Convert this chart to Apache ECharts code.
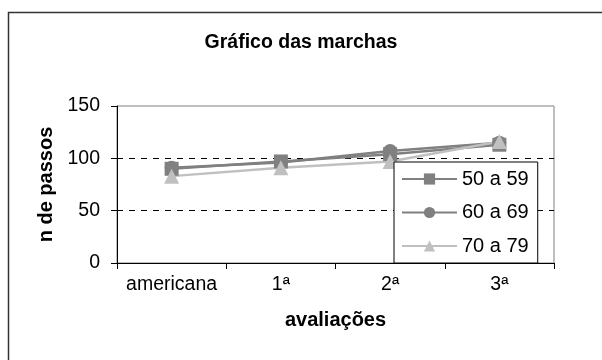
<!DOCTYPE html>
<html><head><meta charset="utf-8">
<script src="https://cdn.jsdelivr.net/npm/echarts@6/dist/echarts.min.js"></script>
<style>html,body{margin:0;padding:0;background:#fff}#c{width:602px;height:360px}</style>
</head><body><div id="c"></div>
<script>
var categories = ['americana', '1ª', '2ª', '3ª'];
var seriesNames = ['50 a 59', '60 a 69', '70 a 79'];
var s50 = [90, 97, 104, 113];
var s60 = [91, 96, 107, 115];
var s70 = [83, 91, 97, 116];
var yTicks = [0, 50, 100, 150];

var chart = echarts.init(document.getElementById('c'), null, {renderer: 'canvas'});
var F = 'Arial, "Liberation Sans", sans-serif';
function mk(name, data, color, symbol, size) {
  return {
    name: name, type: 'line', data: data, symbol: symbol, symbolSize: size,
    lineStyle: {color: color, width: 2.5}, itemStyle: {color: color},
    emphasis: {disabled: true}, animation: false, z: 3
  };
}
chart.setOption({
  animation: false,
  title: {text: 'Gráfico das marchas', left: 'center', top: 28,
    textStyle: {fontFamily: F, fontSize: 19.5, fontWeight: 'bold', color: '#000'}},
  graphic: [{type: 'rect', shape: {x: 8.5, y: 12.5, width: 700, height: 500},
    style: {fill: null, stroke: '#333', lineWidth: 1.5}, silent: true, z: -1}],
  grid: {left: 117, right: 48, top: 106, bottom: 97, show: true,
    borderColor: '#808080', borderWidth: 1, backgroundColor: 'transparent'},
  legend: {
    orient: 'vertical', left: 394, top: 162, width: 144,
    data: seriesNames,
    itemWidth: 55, itemHeight: 14, itemGap: 13.5,
    padding: [7, 9, 7, 7],
    backgroundColor: '#fff', borderColor: '#000', borderWidth: 1,
    textStyle: {fontFamily: F, fontSize: 20, color: '#000'},
    selectedMode: false, z: 5
  },
  xAxis: {
    type: 'category', data: categories, boundaryGap: true,
    axisLine: {lineStyle: {color: '#000', width: 1}},
    axisTick: {show: true, inside: false, length: 6, lineStyle: {color: '#000'}},
    axisLabel: {fontFamily: F, fontSize: 19.5, color: '#000', margin: 12, interval: 0},
    name: 'avaliações', nameLocation: 'middle', nameGap: 47,
    nameTextStyle: {fontFamily: F, fontSize: 20, fontWeight: 'bold', color: '#000'}
  },
  yAxis: {
    type: 'value', min: 0, max: 150, interval: 50,
    axisLine: {show: true, lineStyle: {color: '#000', width: 1}},
    axisTick: {show: true, inside: false, length: 6, lineStyle: {color: '#000'}},
    axisLabel: {fontFamily: F, fontSize: 19.5, color: '#000', margin: 17,
      formatter: function (v) { return yTicks.indexOf(v) >= 0 ? String(v) : ''; }},
    splitLine: {show: true, showMinLine: false, showMaxLine: false,
      lineStyle: {color: '#000', type: [6, 6], width: 1}},
    name: 'n de passos', nameLocation: 'middle', nameGap: 60,
    nameTextStyle: {fontFamily: F, fontSize: 20, fontWeight: 'bold', color: '#000'}
  },
  series: [
    mk(seriesNames[0], s50, '#808080', 'rect', 14),
    mk(seriesNames[1], s60, '#808080', 'circle', 14),
    mk(seriesNames[2], s70, '#c0c0c0', 'triangle', 15)
  ]
});
</script></body></html>
